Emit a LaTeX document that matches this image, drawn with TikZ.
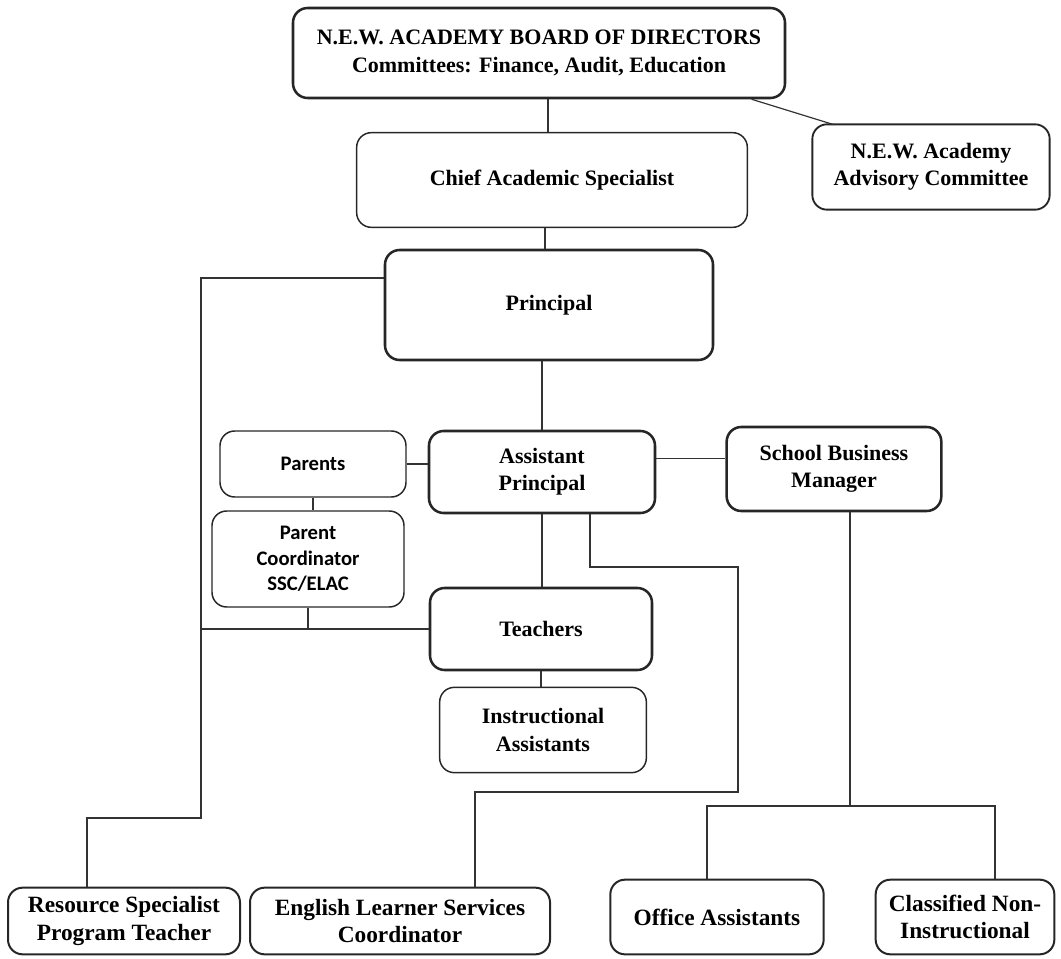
\documentclass[tikz,border=0pt]{standalone}
\usepackage{fontspec}
\setmainfont{Liberation Serif}
\newfontfamily\parentfont{Carlito}
\usepackage{tikz}

\begin{document}
\begin{tikzpicture}[x=0.75pt,y=-0.75pt,
	box/.style={draw=black!85,rounded corners=11pt,align=center,inner sep=2pt,
		font=\fontsize{16.5}{20.5}\selectfont\bfseries},
	heavy/.style={box,line width=1.9pt},
	light/.style={box,line width=1.1pt},
	lower/.style={box,line width=1.5pt,font=\fontsize{17.5}{20.5}\selectfont\bfseries},
	sans/.style={font=\fontsize{15.5}{19}\selectfont\parentfont\bfseries},
	link/.style={draw=black!80,line width=0.9pt}]
					\useasboundingbox (0,0) rectangle (1061,959);

					\node[heavy,minimum width=369pt,minimum height=67.5pt](board) at (539,53){N.E.W. ACADEMY BOARD OF DIRECTORS\\Committees: Finance, Audit, Education};
					\node[light,minimum width=293pt,minimum height=71pt](chief) at (552,180){Chief Academic Specialist};
					\node[box,line width=1.4pt,minimum width=178pt,minimum height=64pt](advisory) at (931,167){N.E.W. Academy\\Advisory Committee};
					\node[heavy,minimum width=246pt,minimum height=82.5pt](principal) at (549,305){Principal};
					\node[light,sans,minimum width=139.5pt,minimum height=49.5pt](parents) at (313,464){Parents};
					\node[light,sans,minimum width=144pt,minimum height=72pt](parcoord) at (308,559){Parent\\Coordinator\\SSC/ELAC};
					\node[heavy,minimum width=169.5pt,minimum height=61.5pt](asst) at (542,472){Assistant\\Principal};
					\node[heavy,minimum width=161pt,minimum height=63pt](business) at (834,469){School Business\\Manager};
					\node[heavy,minimum width=166.5pt,minimum height=61.5pt](teachers) at (541,629){Teachers};
					\node[light,minimum width=155pt,minimum height=64pt](instr) at (543,730){Instructional\\Assistants};
					\node[lower,minimum width=174pt,minimum height=50pt](resource) at (124,921){Resource Specialist\\Program Teacher};
					\node[lower,minimum width=225pt,minimum height=50pt](els) at (400,921){English Learner Services\\Coordinator};
					\node[lower,minimum width=160pt,minimum height=56pt](office) at (717,917){Office Assistants};
					\node[lower,minimum width=134pt,minimum height=56pt](classified) at (965,917){Classified Non-\\Instructional};

					\coordinate(leftbend) at (201,818);
					\coordinate(elsbend1) at (738,567);
					\coordinate(elsbend2) at (475,792);
					\coordinate(split) at (850,806);

					\draw[link] (chief.north -| 548,0) -- (board.south -| 548,0);
					\draw[link] ([xshift=-26pt]board.south east) -- ([xshift=17pt,yshift=-1pt]advisory.north west);
					\draw[link] (principal.north -| 545,0) -- (chief.south -| 545,0);
					\draw[link,line width=1.6pt] ([yshift=20pt]principal.west) -| (leftbend) -| ([xshift=-27.75pt]resource.north);
					\draw[link] (principal.south -| asst.north) -- (asst.north);
					\draw[link] (parents.east) -- (parents.east -| asst.west);
					\draw[link] ([yshift=10pt]asst.east) -- ([yshift=10pt]asst.east -| business.west);
					\draw[link] (parents.south) -- (parents.south |- parcoord.north);
					\draw[link] (parcoord.south) -- (parcoord.south |- teachers.west);
					\draw[link] (leftbend |- teachers.west) -- (teachers.west);
					\draw[link] (asst.south) -- (asst.south |- teachers.north);
					\draw[link] (teachers.south) -- (teachers.south |- instr.north);
					\draw[link,line width=2pt] ([xshift=36pt]asst.south) |- (elsbend1) |- (elsbend2) -- (elsbend2 |- els.north);
					\draw[link,line width=1.3pt] (split |- business.south) -- (split);
					\draw[link,line width=1.3pt] ([xshift=-7.5pt]office.north) |- (split) -| ([xshift=22.5pt]classified.north);
				\end{tikzpicture}
\end{document}
